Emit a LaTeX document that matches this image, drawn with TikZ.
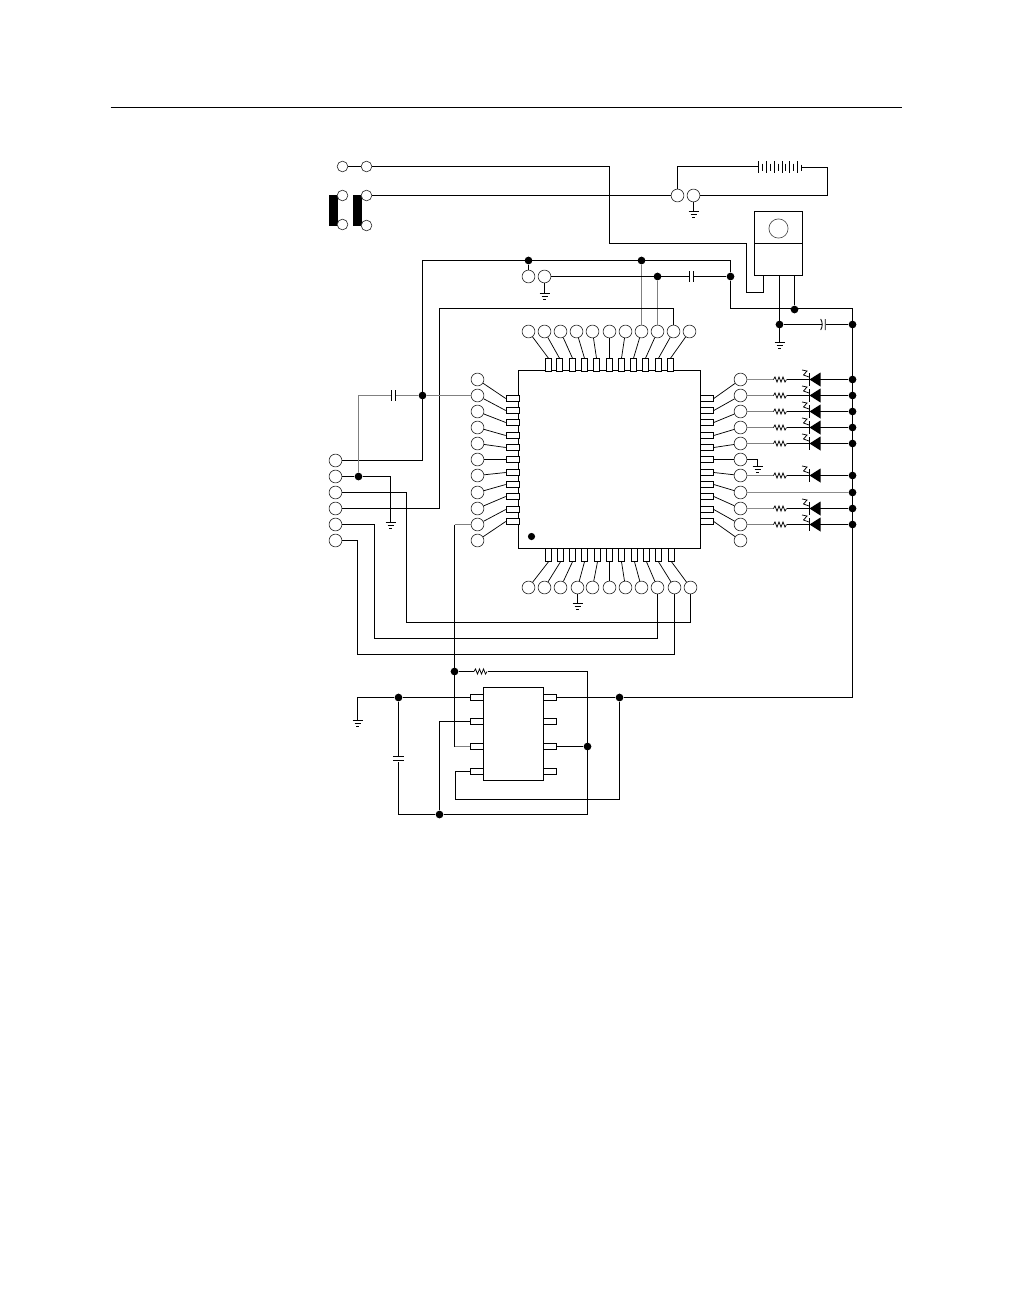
\documentclass[tikz,border=0pt]{standalone}
\tikzset{
  wire/.style={line width=0.72pt,black},
  gwire/.style={line width=0.72pt,black!50},
  lgwire/.style={line width=1.1pt,black!45},
  term/.style={circle,draw=black!80,line width=0.5pt,fill=white,inner sep=0pt,minimum size=9.6pt},
  sterm/.style={term,minimum size=8pt},
  dot/.style={circle,fill=black,inner sep=0pt,minimum size=5.8pt},
  vpin/.style={rectangle,draw=black,line width=0.55pt,fill=white,inner sep=0pt,minimum width=4.9pt,minimum height=9.6pt},
  hpin/.style={rectangle,draw=black,line width=0.55pt,fill=white,inner sep=0pt,minimum width=9.6pt,minimum height=4.6pt},
  bar/.style={rectangle,fill=black,inner sep=0pt,minimum width=6.7pt,minimum height=23pt},
  gnd/.pic={\draw[line width=0.6pt] (-5,0)--(5,0) (-3,3.2)--(3,3.2) (-1.5,6.2)--(1.5,6.2);},
  res/.pic={\draw[line width=0.55pt] (-6.5,0)--(-5,-2.6)--(-3,2.6)--(-1,-2.6)--(1,2.6)--(3,-2.6)--(5,2.6)--(6.5,0);},
  capv/.pic={\draw[line width=0.65pt] (-1.8,-5.5)--(-1.8,5.5) (1.8,-5.5)--(1.8,5.5);},
  caph/.pic={\draw[line width=0.65pt] (-5.5,-1.8)--(5.5,-1.8) (-5.5,1.8)--(5.5,1.8);},
  capc/.pic={\draw[line width=0.65pt] (1.8,-5.5)--(1.8,5.5) (-2.8,-5.5) .. controls (-0.8,-2) and (-0.8,2) .. (-2.8,5.5);},
  led/.pic={\fill (-5.5,0)--(5.5,-7)--(5.5,7)--cycle;
    \draw[line width=0.6pt] (-5.5,-6.5)--(-5.5,6.5);
    \draw[line width=0.55pt] (-13,-9.5)--(-8,-8.5)--(-11.5,-4.5)--(-6,-2.5);},
}
\begin{document}
\begin{tikzpicture}[x=.75pt,y=-.75pt,line join=miter]
\useasboundingbox (0,0) rectangle (1008,1296);
\begin{scope}[shift={(.5,.5)}]
\draw[line width=0.72pt] (110,107)--(901,107);

% top-left switch terminals
\node[bar] (barA) at (333,210) {};
\node[bar] (barB) at (357,210) {};
\node[sterm] (sa) at (342,166) {};
\node[sterm] (sb) at (366,166) {};
\node[sterm] (sc) at (342,195) {};
\node[sterm] (sd) at (366,195) {};
\node[sterm] (se) at (342,224) {};
\node[sterm] (sf) at (366,225) {};

% power terminals
\node[term] (pa) at (677,195) {};
\node[term] (pb) at (693,195) {};
\coordinate (g1) at (693,211);
\pic at (g1) {gnd};

% battery
\coordinate (batL) at (758,166);
\coordinate (batR) at (801,167);
\foreach \i in {0,2,4,6,8,10}{\draw[line width=0.6pt] ({758+3.9*\i},160.5)--({758+3.9*\i},172);}
\foreach \i in {1,3,5,7,9}{\draw[line width=0.6pt] ({758+3.9*\i},163)--({758+3.9*\i},170);}
\draw[line width=0.6pt] (801,164)--(801,170);

% regulator
\node[draw,line width=0.72pt,inner sep=0pt,minimum width=36pt,minimum height=48pt,fill=white] (reg) at (778,243) {};
\draw[line width=0.72pt] (reg.west)--(reg.east);
\node[circle,draw=black!70,line width=0.5pt,inner sep=0pt,minimum size=14.4pt] (hole) at (778,228) {};
\coordinate (rl) at (763,275);
\coordinate (rm) at (779,275);
\coordinate (rr) at (794,275);

% junctions
\foreach \n/\x/\y in {j1/528/260,j2/641/260,j3/657/276,j4/730/276,j5/794/309,j6/779/324,j7/852/324,j8/422/395,j9/358/476,j10/454/671,j11/398/697,j12/619/697,j13/587/746,j14/439/814}
  {\node[dot] (\n) at (\x,\y) {};}

% chip
\node[draw,line width=0.72pt,inner sep=0pt,minimum width=136.5pt,minimum height=133.5pt] (chip) at (609,459) {};
\node[dot,minimum size=5.4pt] (mark) at (531,536) {};

% chip terminals and pins: top
\foreach \i/\cx/\px in {1/528/548,2/544/559,3/560/572,4/576/584,5/592/596,6/609/609,7/625/621,8/641/633,9/657/645,10/673/658,11/689/670}{
  \node[term] (T\i) at (\cx,331) {};
  \node[vpin] (TP\i) at (\px,364.5) {};
  \draw[line width=0.55pt] (T\i)--(TP\i.north);
}
% bottom
\foreach \i/\cx/\px in {1/528/548,2/544/560,3/560/572,4/577/584,5/592/597,6/609/609,7/625/621,8/641/634,9/657/646,10/674/658,11/690/671}{
  \node[term] (B\i) at (\cx,587) {};
  \node[vpin] (BP\i) at (\px,554.5) {};
  \draw[line width=0.55pt] (B\i)--(BP\i.south);
}
% left and right
\foreach \i/\cy/\py in {1/379/398,2/395/410,3/411/422,4/427/435,5/443/447,6/459/459,7/475/472,8/492/484,9/508/496,10/524/509,11/540/521}{
  \node[term] (L\i) at (477,\cy) {};
  \node[hpin] (LP\i) at (512,\py) {};
  \draw[line width=0.55pt] (L\i)--(LP\i.west);
  \node[term] (R\i) at (740,\cy) {};
  \node[hpin] (RP\i) at (706.5,\py) {};
  \draw[line width=0.55pt] (R\i)--(RP\i.east);
}

% connector terminals at left
\foreach \i/\cy in {1/460,2/476,3/492,4/508,5/524,6/540}{\node[term] (C\i) at (335,\cy) {};}

% SOIC
\node[draw,line width=0.72pt,inner sep=0pt,minimum width=44.5pt,minimum height=69.8pt] (ic) at (513,733.5) {};
\foreach \i/\y in {1/697,2/721,3/746,4/771}{
  \node[hpin] (IL\i) at (476.5,\y) {};
  \node[hpin] (IR\i) at (549,\y) {};
}

% wires
\draw[wire] (sa)--(sb);
\draw[wire] (sb)--(609,166)--(609,243)--(746,243)--(746,292)--(763,292)--(rl);
\draw[wire] (sd)--(pa);
\draw[wire] (pa)--(677,166)--(batL);
\draw[wire] (batR)--(827,167)--(827,195)--(pb);
\draw[wire] (pb)--(g1);
\draw[wire] (rm)--(779,342);
\draw[wire] (rr)--(j5);
\coordinate (g2) at (779,342); \pic at (g2) {gnd};
\draw[wire] (C1)--(422,460)--(422,260)--(730,260)--(j4);
\draw[gwire] (j2)--(T8);
\draw[gwire] (j3)--(T9);
\node[term] (Q1) at (528,276) {};
\node[term] (Q2) at (544,276) {};
\draw[wire] (j1)--(Q1);
\coordinate (cap1) at (691,276);
\draw[wire] (Q2)--(j4);
\fill[white] (689,270) rectangle (693,282);
\pic at (cap1) {capv};
\coordinate (g3) at (544,293);
\draw[wire] (Q2)--(g3);
\pic at (g3) {gnd};
\draw[wire] (j4)--(730,308)--(852,308)--(852,697)--(j12);
\draw[wire] (j6)--(j7);
\fill[white] (821,318) rectangle (825,330);
\coordinate (cap2) at (823,324);
\pic at (cap2) {capc};
\draw[wire] (C4)--(439,508)--(439,308)--(673,308)--(T10);
\draw[wire] (j12)--(IR1);
\draw[wire] (C2)--(j9);
\draw[gwire] (j9)--(358,395)--(j8);
\draw[gwire] (j8)--(L2);
\fill[white] (391,389) rectangle (395,401);
\coordinate (cap3) at (393,395);
\pic at (cap3) {capv};
\draw[wire] (j9)--(390,476)--(390,522);
\coordinate (g4) at (390,522); \pic at (g4) {gnd};
\draw[wire] (C3)--(406,492)--(406,622)--(690,622)--(B11);
\draw[wire] (C5)--(374,524)--(374,638)--(657,638)--(B9);
\draw[wire] (C6)--(357,540)--(357,654)--(674,654)--(B10);
\coordinate (g5) at (577,603);
\draw[wire] (B4)--(g5); \pic at (g5) {gnd};
\draw[gwire] (L10)--(454,524);
\draw[wire] (454,524)--(454,746);
\draw[gwire] (454,746)--(IL3);
\coordinate (r0a) at (473,671); \coordinate (r0b) at (487,671);
\draw[wire] (j10)--(r0a);
\pic at (480,671) {res};
\draw[wire] (r0b)--(587,671)--(587,814)--(j14)--(398,814)--(398,761);
\draw[wire] (j11)--(398,755);
\pic at (398,758) {caph};
\draw[wire] (357,720)--(357,697)--(j11)--(IL1);
\coordinate (g6) at (357,720); \pic at (g6) {gnd};
\draw[wire] (j14)--(439,721)--(IL2);
\draw[wire] (IR3)--(j13);
\draw[wire] (j12)--(619,799)--(455,799)--(455,771)--(IL4);

% LED rows
\foreach \i/\y/\st in {1/379/lgwire,2/395/gwire,3/411/gwire,4/427/gwire,5/443/gwire,7/475/gwire,9/508/lgwire,10/524/gwire}{
  \node[dot] (V\i) at (852,\y) {};
  \coordinate (ra\i) at (773,\y); \coordinate (rb\i) at (786,\y);
  \draw[\st] (R\i)--(ra\i);
  \pic at (779.5,\y) {res};
  \draw[wire] (rb\i)--(V\i);
  \pic at (814.5,\y) {led};
}
\node[dot] (V8) at (852,492) {};
\draw[lgwire] (R8)--(V8);
\draw[wire] (R6)--(757,459)--(757,466);
\coordinate (g7) at (757,466); \pic at (g7) {gnd};
\end{scope}
\end{tikzpicture}
\end{document}
